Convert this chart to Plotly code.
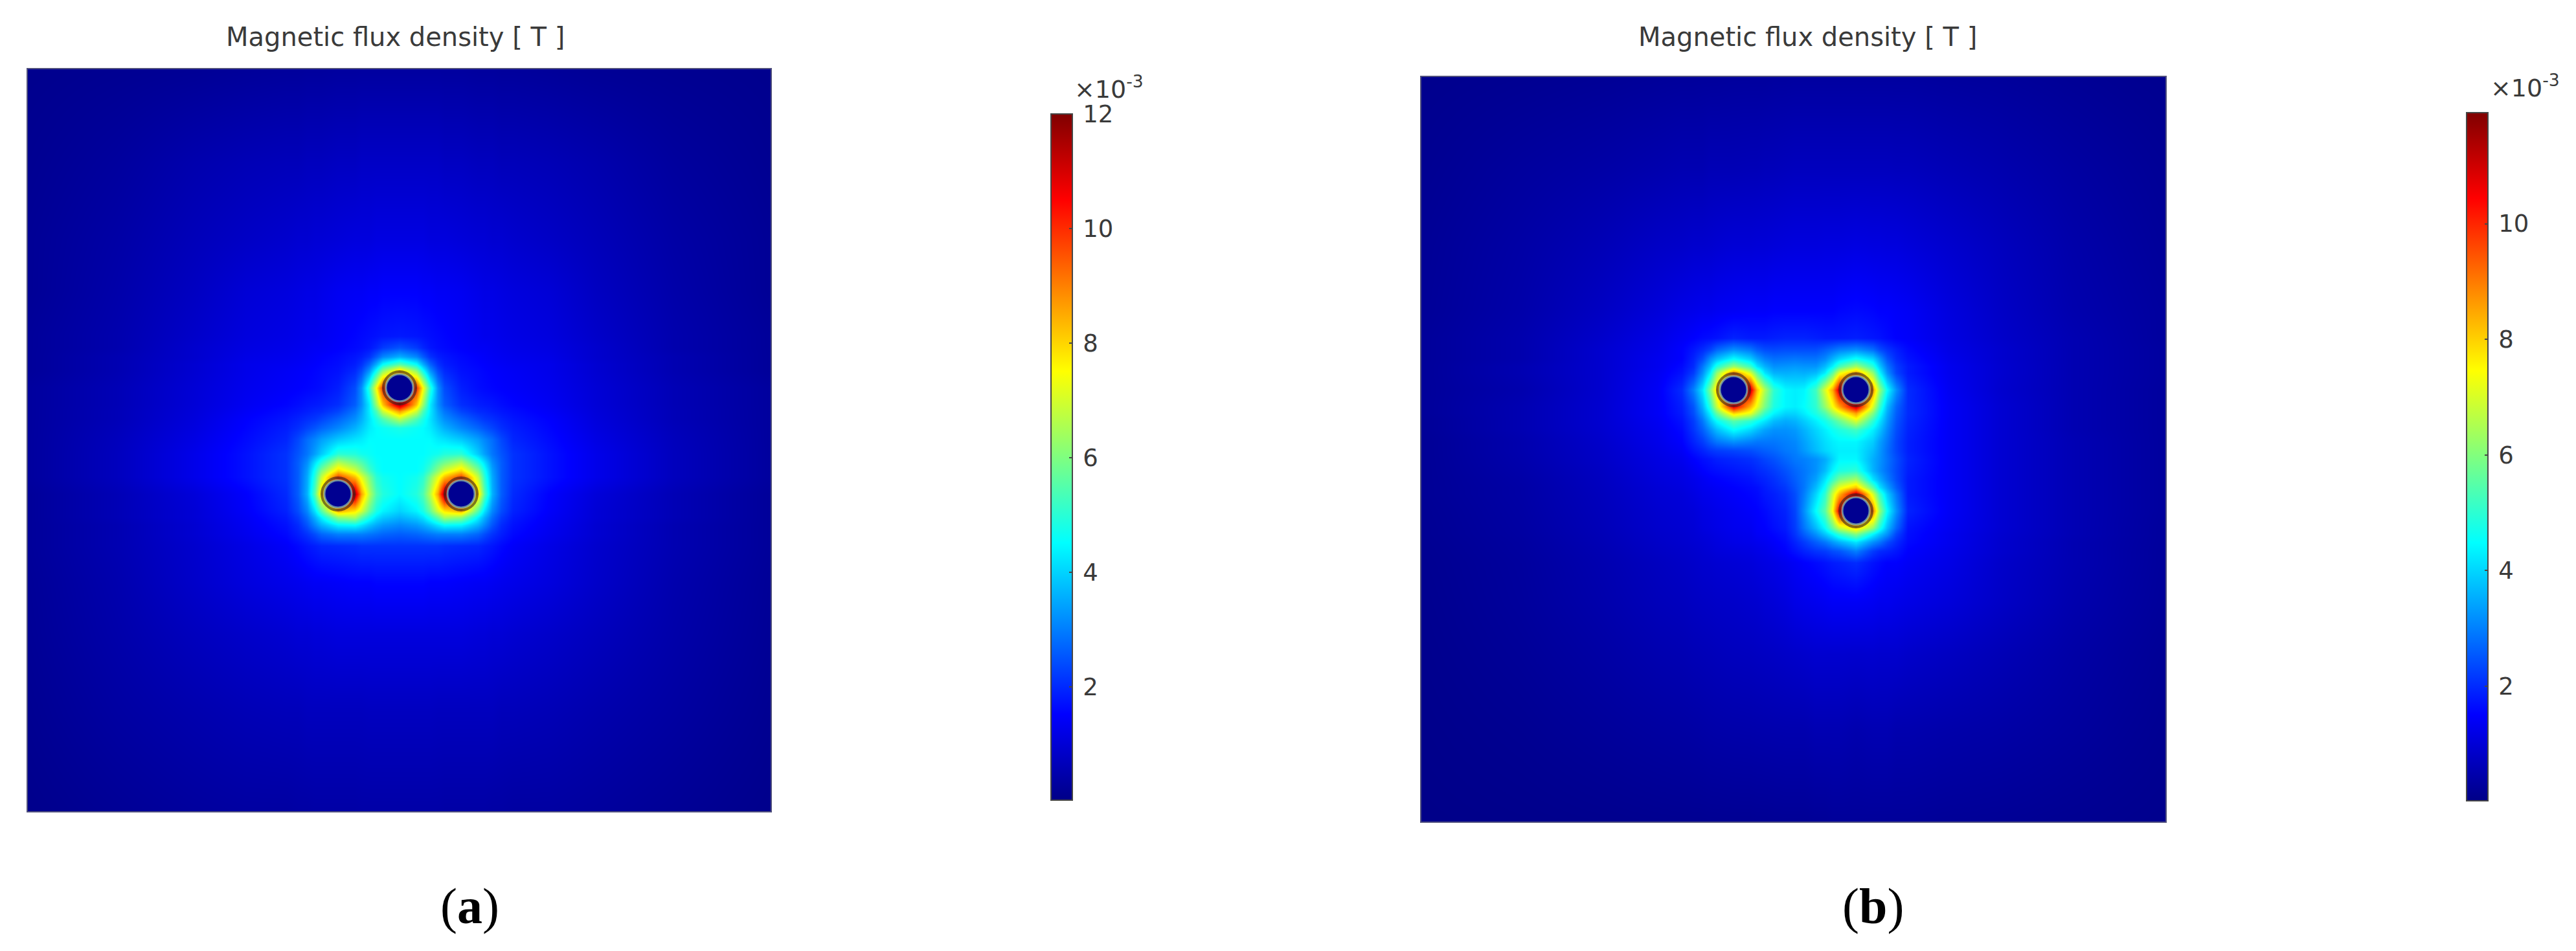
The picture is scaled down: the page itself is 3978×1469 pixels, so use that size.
import plotly.graph_objects as go

W, H = 3978, 1469
TITLE = "Magnetic flux density [ T ]"

x_a = [43,180,300,380,442,460,474,486,496,522,548,558,570,581,591,617,643,653,664,676,686,712,738,748,760,774,792,850,920,1040,1190]
y_a = [107,250,370,450,519,537,551,563,573,599,625,635,647,661,679,701,715,727,737,763,789,799,811,825,843,900,980,1100,1253]
z_a = [
[.1,.15,.2,.25,.28,.28,.3,.3,.3,.32,.32,.33,.33,.33,.33,.33,.33,.33,.33,.33,.32,.32,.3,.3,.3,.28,.28,.25,.2,.15,.1],
[.15,.3,.5,.6,.65,.65,.7,.7,.7,.75,.75,.8,.8,.8,.8,.8,.8,.8,.8,.8,.75,.75,.7,.7,.7,.65,.65,.6,.5,.3,.15],
[.2,.4,.65,.8,.9,.95,.95,1,1,1.05,1.1,1.1,1.1,1.15,1.15,1.15,1.15,1.15,1.1,1.1,1.1,1.05,1,1,.95,.95,.9,.8,.65,.4,.2],
[.2,.45,.75,1,1.1,1.15,1.2,1.2,1.25,1.35,1.4,1.4,1.45,1.45,1.5,1.5,1.5,1.45,1.45,1.4,1.4,1.35,1.25,1.2,1.2,1.15,1.1,1,.75,.45,.2],
[.25,.5,.85,1.1,1.2,1.25,1.3,1.3,1.35,1.45,1.55,1.6,1.65,1.7,1.75,1.8,1.75,1.7,1.65,1.6,1.55,1.45,1.35,1.3,1.3,1.25,1.2,1.1,.85,.5,.25],
[.25,.5,.9,1.15,1.25,1.3,1.35,1.4,1.4,1.5,1.6,1.65,1.75,1.95,2.2,2.5,2.2,1.95,1.75,1.65,1.6,1.5,1.4,1.4,1.35,1.3,1.25,1.15,.9,.5,.25],
[.25,.55,.9,1.2,1.3,1.35,1.4,1.45,1.5,1.6,1.75,1.85,2.1,2.6,3.1,3.6,3.1,2.6,2.1,1.85,1.75,1.6,1.5,1.45,1.4,1.35,1.3,1.2,.9,.55,.25],
[.25,.55,.95,1.25,1.35,1.4,1.45,1.5,1.55,1.65,1.85,2.1,2.7,3.6,4.6,5.6,4.6,3.6,2.7,2.1,1.85,1.65,1.55,1.5,1.45,1.4,1.35,1.25,.95,.55,.25],
[.25,.55,.95,1.25,1.4,1.45,1.5,1.55,1.6,1.7,2,2.4,3.3,4.7,6.2,8.2,6.2,4.7,3.3,2.4,2,1.7,1.6,1.55,1.5,1.45,1.4,1.25,.95,.55,.25],
[.3,.6,1,1.3,1.45,1.5,1.55,1.6,1.65,1.85,2.4,3.2,5,7.5,10,10,10,7.5,5,3.2,2.4,1.85,1.65,1.6,1.55,1.5,1.45,1.3,1,.6,.3],
[.3,.6,1.02,1.36,1.55,1.65,1.75,1.8,1.85,2.05,2.6,3.2,4.3,6.3,8.2,11.5,8.2,6.3,4.3,3.2,2.6,2.05,1.85,1.8,1.75,1.65,1.55,1.36,1.02,.6,.3],
[.3,.62,1.05,1.42,1.65,1.75,1.85,1.95,2,2.3,2.9,3.4,4.3,5.4,6.9,8.7,6.9,5.4,4.3,3.4,2.9,2.3,2,1.95,1.85,1.75,1.65,1.42,1.05,.62,.3],
[.3,.62,1.08,1.5,1.75,1.9,2.05,2.15,2.3,2.7,3.2,3.6,4.2,4.8,5.4,6.7,5.4,4.8,4.2,3.6,3.2,2.7,2.3,2.15,2.05,1.9,1.75,1.5,1.08,.62,.3],
[.3,.65,1.12,1.55,1.85,2.05,2.3,2.5,2.7,3.1,3.6,3.9,4.3,4.5,4.6,4.8,4.6,4.5,4.3,3.9,3.6,3.1,2.7,2.5,2.3,2.05,1.85,1.55,1.12,.65,.3],
[.3,.68,1.18,1.62,1.95,2.35,2.8,3.1,3.4,3.9,4.2,4.3,4.5,4.5,4.5,4.5,4.5,4.5,4.5,4.3,4.2,3.9,3.4,3.1,2.8,2.35,1.95,1.62,1.18,.68,.3],
[.3,.7,1.25,1.7,2.1,2.5,2.9,3.4,3.9,5,4.9,4.7,4.6,4.5,4.5,4.5,4.5,4.5,4.6,4.7,4.9,5,3.9,3.4,2.9,2.5,2.1,1.7,1.25,.7,.3],
[.3,.7,1.25,1.7,2.1,2.6,3.2,4.2,5,6.7,5.9,5.5,4.9,4.6,4.5,4.5,4.5,4.6,4.9,5.5,5.9,6.7,5,4.2,3.2,2.6,2.1,1.7,1.25,.7,.3],
[.3,.7,1.25,1.7,2.1,2.6,3.4,4.7,6,8,7,6.2,5.3,4.7,4.5,4.5,4.5,4.7,5.3,6.2,7,8,6,4.7,3.4,2.6,2.1,1.7,1.25,.7,.3],
[.3,.7,1.25,1.7,2.1,2.6,3.5,5,6.8,9.8,8.3,7.2,6,5,4.7,4.5,4.7,5,6,7.2,8.3,9.8,6.8,5,3.5,2.6,2.1,1.7,1.25,.7,.3],
[.25,.6,1.05,1.5,2,2.6,3.6,5.5,8,10,11.5,8.6,6.7,5.4,4.9,4.5,4.9,5.4,6.7,8.6,11.5,10,8,5.5,3.6,2.6,2,1.5,1.05,.6,.25],
[.25,.6,1,1.45,1.9,2.4,3.1,4.2,5.5,8.5,7.8,7,5.7,4.8,4.4,4,4.4,4.8,5.7,7,7.8,8.5,5.5,4.2,3.1,2.4,1.9,1.45,1,.6,.25],
[.25,.6,1,1.4,1.8,2.2,2.8,3.6,4.4,6.2,6.5,5.6,4.8,4.2,3.9,3.6,3.9,4.2,4.8,5.6,6.5,6.2,4.4,3.6,2.8,2.2,1.8,1.4,1,.6,.25],
[.25,.55,.95,1.35,1.7,2,2.5,3.1,3.6,4.4,4.5,4.2,3.8,3.5,3.3,3.1,3.3,3.5,3.8,4.2,4.5,4.4,3.6,3.1,2.5,2,1.7,1.35,.95,.55,.25],
[.25,.55,.95,1.3,1.6,1.85,2.1,2.4,2.7,3,3,3,2.9,2.8,2.7,2.6,2.7,2.8,2.9,3,3,3,2.7,2.4,2.1,1.85,1.6,1.3,.95,.55,.25],
[.25,.55,.9,1.2,1.45,1.6,1.75,1.85,1.95,2,2.05,2.1,2.1,2.1,2.1,2.1,2.1,2.1,2.1,2.1,2.05,2,1.95,1.85,1.75,1.6,1.45,1.2,.9,.55,.25],
[.22,.5,.85,1.1,1.25,1.3,1.35,1.4,1.4,1.45,1.5,1.5,1.5,1.55,1.55,1.55,1.55,1.55,1.5,1.5,1.5,1.45,1.4,1.4,1.35,1.3,1.25,1.1,.85,.5,.22],
[.2,.45,.7,.85,.95,1,1,1.05,1.05,1.1,1.1,1.1,1.1,1.1,1.1,1.1,1.1,1.1,1.1,1.1,1.1,1.1,1.05,1.05,1,1,.95,.85,.7,.45,.2],
[.15,.35,.5,.6,.65,.65,.7,.7,.7,.7,.7,.7,.72,.72,.72,.72,.72,.72,.72,.7,.7,.7,.7,.7,.7,.65,.65,.6,.5,.35,.15],
[.08,.2,.3,.35,.35,.38,.38,.4,.4,.4,.4,.42,.42,.42,.42,.42,.42,.42,.42,.42,.4,.4,.4,.4,.38,.38,.35,.35,.3,.2,.08],
]
wires_x_a = [522, 617, 712]
wires_y_a = [763, 599, 763]
ticks_a = [2, 4, 6, 8, 10, 12]

# ---- panel (b)
x_b = [2195,2350,2470,2560,2597,2615,2629,2641,2651,2677,2703,2713,2725,2739,2757,2772,2786,2804,2818,2830,2840,2866,2892,2902,2914,2928,2946,3010,3090,3200,3344]
y_b = [119,260,380,480,522,540,554,566,576,602,628,638,650,664,682,696,709,727,741,753,763,789,815,825,837,851,869,930,1010,1130,1269]
z_b = [
[.1,.15,.2,.25,.27,.27,.28,.28,.28,.3,.3,.3,.3,.32,.32,.33,.33,.33,.33,.33,.33,.33,.33,.33,.33,.33,.33,.3,.27,.2,.12],
[.15,.3,.4,.5,.55,.55,.55,.6,.6,.6,.62,.62,.65,.65,.68,.7,.7,.7,.7,.7,.7,.7,.7,.7,.7,.68,.68,.6,.5,.35,.2],
[.2,.4,.6,.8,.85,.9,.9,.92,.95,1,1,1.02,1.02,1.05,1.08,1.1,1.1,1.1,1.12,1.12,1.12,1.15,1.12,1.12,1.1,1.1,1.05,.9,.7,.45,.25],
[.22,.45,.75,1.05,1.2,1.25,1.3,1.3,1.35,1.4,1.45,1.45,1.45,1.5,1.5,1.5,1.5,1.5,1.5,1.5,1.55,1.6,1.55,1.5,1.5,1.45,1.4,1.1,.8,.5,.3],
[.25,.5,.85,1.2,1.4,1.5,1.6,1.65,1.7,1.9,1.8,1.8,1.8,1.85,1.9,1.9,1.9,1.85,1.8,1.8,1.8,1.85,1.75,1.7,1.6,1.5,1.45,1.15,.85,.55,.3],
[.25,.5,.9,1.25,1.5,1.75,2,2.3,2.7,3.2,2.9,2.6,2.4,2.35,2.4,2.4,2.4,2.4,2.6,2.8,3,3.2,2.8,2.4,2.1,1.85,1.6,1.2,.9,.55,.32],
[.25,.5,.9,1.3,1.5,1.9,2.4,3.2,3.7,4.5,3.9,3.4,3,2.8,2.85,2.9,2.85,2.85,3.1,3.6,4,4.6,4,3.3,2.5,2,1.7,1.25,.9,.55,.32],
[.25,.55,.9,1.3,1.6,2,2.9,3.8,4.9,6.3,5.2,4.2,3.6,3.2,3.25,3.3,3.25,3.25,3.7,4.4,5.3,6.4,5,3.9,2.9,2.2,1.8,1.3,.92,.55,.32],
[.25,.55,.9,1.35,1.7,2.2,3.2,4.4,6.2,9,7,5.5,4.2,3.6,3.55,3.6,3.55,3.7,4.3,5.6,7.2,8.7,6.2,4.5,3.2,2.3,1.8,1.3,.92,.55,.32],
[.25,.5,.9,1.4,2,3,4.2,6,8,10,11,8.2,6.5,5,4.4,4.3,4.4,5.2,7,8.5,11,10,8.7,6.3,4.5,3.2,2,1.35,.9,.55,.3],
[.25,.55,.92,1.4,1.85,2.5,3.6,5,6.8,10.7,8.3,7.2,5.9,4.8,4.4,4.3,4.5,5,6.2,7.4,8.5,11,7,5.2,3.7,2.7,2,1.4,.95,.55,.3],
[.25,.55,.92,1.4,1.8,2.4,3.3,4.4,5.7,8,7.2,6.2,5.1,4.4,4,4,4.3,4.8,5.4,6.4,7.1,8.6,6,4.7,3.5,2.6,2,1.4,.95,.55,.3],
[.22,.55,.92,1.35,1.7,2.2,2.9,3.8,4.5,5.5,5,4.6,4.2,3.7,3.5,3.6,3.9,4.3,4.7,5.2,5.7,7,5,4.2,3.3,2.5,1.95,1.4,.95,.55,.3],
[.22,.55,.9,1.3,1.6,2.1,2.6,3.2,3.7,4.5,4,3.7,3.4,3.2,3.2,3.3,3.6,4,4.3,4.6,4.8,5.2,4.3,3.8,3.1,2.4,1.9,1.4,.95,.55,.3],
[.2,.5,.85,1.25,1.5,1.9,2.2,2.6,2.9,3.2,3,2.9,2.9,2.9,3,3.1,3.4,3.8,4.1,4.3,4.4,4.4,3.9,3.4,2.9,2.3,1.85,1.4,.95,.58,.3],
[.2,.5,.82,1.2,1.4,1.7,1.9,2.1,2.2,2.3,2.4,2.5,2.6,2.7,2.9,3,3.3,3.7,4,4.2,4.3,4.3,3.7,3.3,2.8,2.3,1.85,1.4,.95,.58,.3],
[.2,.48,.8,1.15,1.3,1.5,1.65,1.75,1.85,1.95,2.05,2.15,2.3,2.45,2.7,2.9,3,3.2,3.5,4,4.4,4.4,3.55,3.25,2.85,2.4,1.9,1.4,.95,.58,.3],
[.2,.45,.75,1.1,1.2,1.35,1.5,1.6,1.65,1.75,1.85,1.95,2.05,2.2,2.45,2.7,2.9,3.2,3.7,4.4,4.8,5,3.6,3.2,2.8,2.35,1.85,1.4,.95,.58,.3],
[.2,.42,.72,1.05,1.15,1.25,1.35,1.45,1.5,1.6,1.7,1.8,1.9,2.05,2.3,2.6,2.9,3.4,4.2,5.1,5.9,6.5,4.2,3.6,3,2.4,1.8,1.4,.95,.58,.3],
[.2,.4,.7,1,1.1,1.2,1.3,1.35,1.4,1.5,1.6,1.65,1.8,1.95,2.15,2.5,2.9,3.7,4.6,6.2,7.2,8.2,5.5,4.2,3.4,2.6,1.8,1.4,.95,.58,.3],
[.2,.4,.68,.98,1.05,1.15,1.25,1.3,1.35,1.45,1.55,1.6,1.75,1.85,2.05,2.4,3,4,5,6.9,8.3,11,7,5.2,3.9,2.9,1.8,1.4,.95,.58,.3],
[.18,.38,.65,.92,1,1.05,1.15,1.2,1.25,1.35,1.45,1.5,1.6,1.75,1.9,2.3,3.2,4.5,5.5,7.5,10.7,10,9,6.3,4.5,3.2,1.9,1.4,.95,.58,.3],
[.17,.36,.62,.88,.95,1,1.1,1.15,1.2,1.3,1.35,1.45,1.5,1.65,1.8,2.2,2.9,3.7,4.5,5.7,6.8,8,6.2,4.9,3.7,2.7,1.7,1.35,.95,.58,.28],
[.17,.35,.6,.85,.92,.98,1.05,1.1,1.15,1.25,1.3,1.4,1.45,1.55,1.7,2.1,2.6,3.2,3.8,4.4,5,6,4.4,3.8,3.2,2.3,1.65,1.3,.92,.58,.28],
[.16,.33,.58,.82,.9,.95,1,1.05,1.1,1.2,1.25,1.3,1.35,1.45,1.6,1.9,2.2,2.6,2.9,3.3,3.6,4.2,3.2,2.9,2.4,2,1.6,1.3,.9,.55,.28],
[.15,.32,.55,.78,.85,.9,.95,1,1.05,1.1,1.15,1.2,1.25,1.35,1.5,1.7,1.9,2.1,2.2,2.4,2.5,3,2.2,2,1.9,1.75,1.5,1.25,.9,.55,.27],
[.14,.3,.52,.72,.8,.85,.9,.92,.95,1,1.05,1.1,1.15,1.2,1.3,1.4,1.5,1.6,1.7,1.8,1.85,2,1.7,1.6,1.5,1.5,1.4,1.2,.85,.55,.27],
[.12,.28,.47,.65,.7,.75,.78,.8,.82,.85,.9,.92,.98,1.02,1.1,1.2,1.25,1.3,1.35,1.4,1.4,1.4,1.35,1.3,1.3,1.25,1.2,1.05,.8,.5,.25],
[.1,.23,.38,.52,.56,.6,.62,.64,.66,.7,.72,.74,.76,.78,.82,.85,.88,.92,.92,.92,.92,.9,.92,.9,.9,.9,.85,.75,.6,.4,.2],
[.07,.15,.25,.33,.36,.38,.4,.42,.43,.45,.46,.47,.48,.49,.5,.5,.5,.55,.55,.55,.55,.5,.55,.55,.55,.5,.5,.45,.4,.3,.15],
[.04,.07,.1,.13,.14,.15,.15,.16,.16,.17,.17,.18,.18,.19,.2,.2,.2,.22,.22,.25,.25,.25,.25,.25,.25,.25,.25,.22,.2,.15,.1],
]
wires_x_b = [2677, 2866, 2866]
wires_y_b = [602, 602, 789]
ticks_b = [2, 4, 6, 8, 10]

for zz, xx, yy in ((z_a, x_a, y_a), (z_b, x_b, y_b)):
    assert len(zz) == len(yy)
    for row in zz:
        assert len(row) == len(xx), (len(row), len(xx))

JET = [[0, "rgb(0,0,135)"], [.125, "rgb(0,0,255)"], [.375, "rgb(0,255,255)"],
       [.625, "rgb(255,255,0)"], [.875, "rgb(255,0,0)"], [1, "rgb(128,0,0)"]]
TXT = "#3a3a3a"
FONT = "DejaVu Sans"


def heat(x, y, z, zmax, ticks, cb_left, cb_top, cb_len, axes):
    return go.Heatmap(
        x=x, y=y, z=z, zmin=0.02, zmax=zmax, zsmooth="best", colorscale=JET,
        xaxis=axes[0], yaxis=axes[1], hoverinfo="skip",
        colorbar=dict(
            x=cb_left / W, xanchor="left", xpad=0, y=1 - cb_top / H, yanchor="top", ypad=0,
            lenmode="pixels", len=cb_len, thicknessmode="pixels", thickness=33,
            tickmode="array", tickvals=ticks, ticktext=["\u2009" + str(t) for t in ticks],
            ticks="inside", ticklen=6, tickwidth=2, tickcolor="rgb(70,70,70)",
            outlinecolor="rgb(70,70,70)", outlinewidth=2, tickfont=dict(family=FONT, size=37, color=TXT),
        ),
    )


def wires(x, y, axes):
    out = []
    out.append(go.Scatter(x=x, y=y, mode="markers", xaxis=axes[0], yaxis=axes[1], hoverinfo="skip",
                          marker=dict(size=50, color="rgba(0,0,0,0)", line=dict(width=4, color="rgba(50,30,30,0.6)"))))
    out.append(go.Scatter(x=x, y=y, mode="markers", xaxis=axes[0], yaxis=axes[1], hoverinfo="skip",
                          marker=dict(size=42, color="rgb(0,0,145)", line=dict(width=3, color="rgba(120,160,165,0.85)"))))
    return out


fig = go.Figure()
fig.add_trace(heat(x_a, y_a, z_a, 12, ticks_a, 1623, 176, 1060, ("x", "y")))
fig.add_trace(heat(x_b, y_b, z_b, 11.92, ticks_b, 3809, 174, 1063, ("x2", "y2")))
for t in wires(wires_x_a, wires_y_a, ("x", "y")) + wires(wires_x_b, wires_y_b, ("x2", "y2")):
    fig.add_trace(t)


def ann(text, xc, yc, size, family=FONT, color=TXT):
    return dict(text=text, x=xc / W, y=1 - yc / H, xref="paper", yref="paper", showarrow=False,
                xanchor="center", yanchor="middle", font=dict(family=family, size=size, color=color))


def frame(domain, rng, anchor):
    return dict(domain=domain, range=rng, anchor=anchor, showticklabels=False, ticks="", showgrid=False,
                zeroline=False, showline=True, mirror=True, linewidth=2, linecolor="rgb(80,80,125)")


fig.update_layout(
    width=W, height=H, margin=dict(l=0, r=0, t=0, b=0), paper_bgcolor="white", plot_bgcolor="white",
    showlegend=False,
    xaxis=frame([43 / W, 1190 / W], [43, 1190], "y"),
    yaxis=frame([1 - 1253 / H, 1 - 107 / H], [1253, 107], "x"),
    xaxis2=frame([2195 / W, 3344 / W], [2195, 3344], "y2"),
    yaxis2=frame([1 - 1269 / H, 1 - 119 / H], [1269, 119], "x2"),
    annotations=[
        ann(TITLE, 610, 57, 40), ann(TITLE, 2791, 57, 40),
        ann("×10<sup>-3</sup>", 1712, 135, 38), ann("×10<sup>-3</sup>", 3899, 133, 38),
        ann("(<b>a</b>)", 725, 1399, 78, "Liberation Serif", "black"),
        ann("(<b>b</b>)", 2892, 1399, 78, "Liberation Serif", "black"),
    ],
)
fig.write_html("out.html", config={"displayModeBar": False}, post_script="document.body.style.margin='0';")
